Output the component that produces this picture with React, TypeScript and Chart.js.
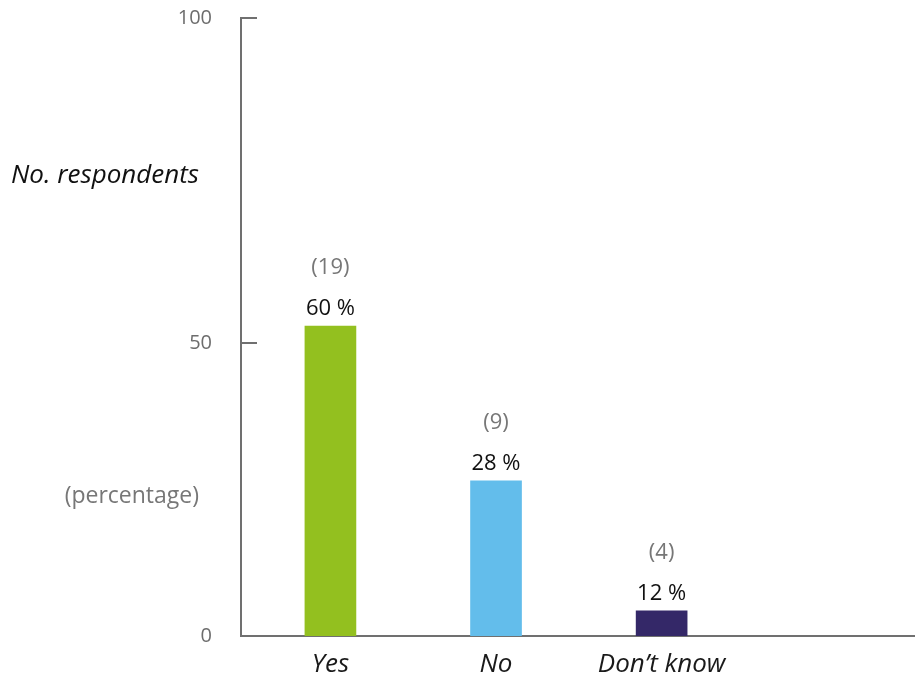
import React, { useEffect, useRef } from "react";
import { Chart, registerables } from "chart.js";

Chart.register(...registerables);

const categories = ["Yes", "No", "Don\u2019t know"];
const barValues = [52.9, 26.5, 4.3];
const percentLabels = ["60 %", "28 %", "12 %"];
const countLabels = ["(19)", "(9)", "(4)"];
const barColors = ["#93c01f", "#63bdeb", "#342868"];
const yTickValues = [0, 50, 105.5];
const yTickLabels = ["0", "50", "100"];

const FONT = "'Open Sans', 'Noto Sans', sans-serif";
const AXIS_COLOR = "#707070";

const overlayPlugin = {
  id: "overlay",
  afterDraw(chart: any) {
    const ctx = chart.ctx;
    const area = chart.chartArea;
    const yScale = chart.scales.y;
    ctx.save();
    ctx.strokeStyle = AXIS_COLOR;
    ctx.lineWidth = 2;
    yTickValues.forEach((v) => {
      if (v === 0) return;
      const py = Math.round(yScale.getPixelForValue(v));
      ctx.beginPath();
      ctx.moveTo(area.left, py);
      ctx.lineTo(area.left + 16, py);
      ctx.stroke();
    });
    const meta = chart.getDatasetMeta(0);
    ctx.textAlign = "center";
    ctx.textBaseline = "middle";
    meta.data.forEach((el: any, i: number) => {
      ctx.font = `22px ${FONT}`;
      ctx.fillStyle = "#111111";
      ctx.fillText(percentLabels[i], el.x, el.y - 17);
      ctx.fillStyle = "#777777";
      ctx.fillText(countLabels[i], el.x, el.y - 58);
    });
    ctx.textAlign = "right";
    ctx.font = `italic 26px ${FONT}`;
    ctx.fillStyle = "#111111";
    ctx.fillText("No. respondents", 199, 176);
    ctx.font = `23px ${FONT}`;
    ctx.fillStyle = "#777777";
    ctx.fillText("(percentage)", 199, 496);
    ctx.restore();
  },
};

export default function App() {
  const canvasRef = useRef<HTMLCanvasElement | null>(null);

  useEffect(() => {
    document.body.style.margin = "0";
    const canvas = canvasRef.current;
    if (!canvas) return;
    const chart = new Chart(canvas, {
      type: "bar",
      data: {
        datasets: [
          {
            data: barValues.map((v, i) => ({ x: i, y: v })),
            backgroundColor: barColors,
            barThickness: 51,
            borderWidth: 0,
          },
        ],
      },
      options: {
        responsive: false,
        animation: false,
        devicePixelRatio: 1,
        layout: { padding: { top: 18, right: 0, left: 0, bottom: 0 } },
        plugins: {
          legend: { display: false },
          tooltip: { enabled: false },
        },
        scales: {
          x: {
            type: "linear",
            offset: false,
            min: -0.54,
            max: 3.53,
            afterBuildTicks: (scale: any) => {
              scale.ticks = categories.map((_, i) => ({ value: i }));
            },
            afterFit: (scale: any) => {
              scale.height = 37;
              scale.paddingLeft = 0;
              scale.paddingRight = 0;
            },
            grid: { display: false },
            border: { display: true, color: AXIS_COLOR, width: 2 },
            ticks: {
              padding: 5,
              color: "#1a1a1a",
              font: { family: FONT, size: 26, style: "italic" },
              callback: (v: any) => categories[v as number] ?? "",
              maxRotation: 0,
              autoSkip: false,
            },
          },
          y: {
            type: "linear",
            min: 0,
            max: 105.5,
            afterBuildTicks: (scale: any) => {
              scale.ticks = yTickValues.map((v) => ({ value: v }));
            },
            afterFit: (scale: any) => {
              scale.width = 241;
              scale.paddingTop = 0;
              scale.paddingBottom = 0;
            },
            grid: { display: false },
            border: { display: true, color: AXIS_COLOR, width: 2 },
            ticks: {
              padding: 21,
              color: "#6d6d6d",
              font: { family: FONT, size: 20 },
              callback: (v: any) => {
                const idx = yTickValues.indexOf(v as number);
                return idx >= 0 ? yTickLabels[idx] : "";
              },
            },
          },
        },
      },
      plugins: [overlayPlugin],
    });
    return () => chart.destroy();
  }, []);

  return (
    <div style={{ width: 915, height: 673 }}>
      <canvas ref={canvasRef} width={915} height={673} />
    </div>
  );
}
